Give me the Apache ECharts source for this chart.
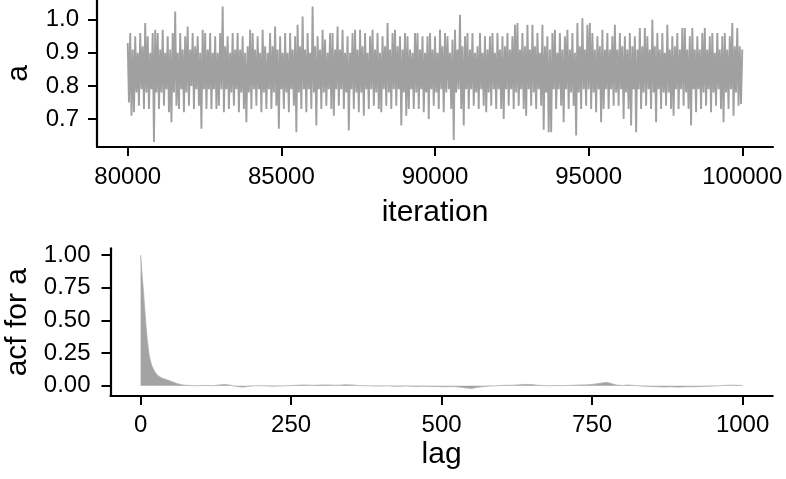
<!DOCTYPE html>
<html>
<head>
<meta charset="utf-8">
<script src="https://cdn.jsdelivr.net/npm/echarts@6/dist/echarts.min.js"></script>
<style>
html,body{margin:0;padding:0;background:#fff;}
#chart{width:786px;height:479px;}
</style>
</head>
<body>
<div id="chart"></div>
<script>
// ---- data ----
var iterStart = 80000;
var iterEnd = 100000;
var traceValues = [
.93,.75,.96,.71,.91,.72,.95,.78,
.90,.74,.96,.79,.92,.73,.99,.78,
.95,.73,.90,.79,.96,.63,.97,.78,
.96,.73,.91,.78,.97,.74,.90,.79,
.95,.72,.91,.69,.96,.78,1.025,.74,
.90,.73,.96,.79,.91,.72,.95,.78,
.98,.74,.91,.80,.96,.73,.92,.79,
.95,.74,.90,.67,.97,.79,.96,.73,
.91,.79,.96,.73,.90,.79,.95,.73,
.90,.74,.96,.79,1.04,.72,.92,.79,
.95,.73,.90,.78,.96,.74,.91,.79,
.96,.72,.91,.78,.95,.73,.90,.69,
.92,.78,.97,.73,.96,.79,.91,.74,
.95,.79,.90,.72,.97,.78,.92,.73,
.90,.79,.96,.73,.92,.78,.98,.74,
.91,.67,.95,.79,.90,.73,.96,.78,
.90,.72,.96,.79,.91,.74,.95,.66,
.985,.78,.92,.73,1.01,.79,.91,.72,
.96,.79,.90,.73,1.04,.78,.92,.68,
.95,.79,.91,.73,.97,.78,.94,.74,
.90,.79,.96,.73,.96,.71,.91,.79,
.98,.74,.91,.79,.97,.73,.90,.78,
.95,.665,.90,.79,.96,.73,.97,.78,
.91,.72,.97,.78,.92,.71,.96,.79,
.90,.73,.95,.79,.97,.74,.91,.78,
.96,.73,.90,.72,.95,.79,.92,.74,
.99,.78,.91,.73,.96,.79,.97,.74,
.92,.79,.95,.68,.91,.78,.96,.71,
.95,.73,.91,.79,.90,.73,.96,.78,
.96,.73,.91,.79,.95,.72,.90,.78,
.95,.70,.96,.79,.91,.74,.95,.78,
.90,.73,.97,.79,.92,.72,.96,.78,
.95,.79,.90,.73,.94,.636,.97,.78,
.91,.79,1.015,.73,.92,.68,.95,.79,
.96,.73,.91,.79,.96,.74,.90,.78,
.92,.73,.96,.79,.90,.74,.95,.72,
.91,.78,.95,.74,.96,.79,.90,.73,
.96,.79,.91,.73,.95,.70,.92,.79,
.96,.74,.91,.79,.95,.73,.985,.78,
.99,.74,.91,.79,.96,.73,.92,.71,
.985,.79,.91,.74,.985,.78,.92,.73,
.96,.79,.90,.74,.985,.667,.92,.78,
.95,.66,.91,.66,.96,.79,.97,.73,
.90,.79,.96,.74,.91,.69,.95,.79,
.97,.73,.91,.78,.96,.74,.90,.65,
.99,.78,.92,.73,1.005,.79,.91,.74,
.985,.79,.99,.73,.96,.78,.91,.72,
.95,.79,.92,.69,.97,.73,.91,.79,
.96,.73,.91,.79,.95,.74,.985,.78,
.91,.74,.96,.79,.92,.70,.95,.78,
.91,.73,.96,.68,.92,.79,.95,.66,
.91,.79,.975,.73,.92,.78,.975,.74,
.95,.79,.91,.73,1.0,.78,.92,.69,
.96,.79,.91,.73,.96,.78,.90,.74,
.985,.78,.91,.73,.95,.71,.92,.79,
.96,.73,.91,.79,.975,.74,.975,.78,
.91,.73,.95,.68,.975,.79,.91,.72,
.95,.79,.91,.73,.96,.78,.975,.74,
.91,.79,.95,.72,.96,.78,.90,.74,
.96,.79,.91,.73,.95,.69,.96,.78,
.91,.73,.95,.79,.99,.71,.92,.78,
.975,.74,.92,.745,.91
];

var acfLags = [0,1,2,3,4,5,6,7,8,9,10,11,12,13,14,15,16,17,18,19,20,22,24,26,28,30,33,36,40,45,50,55,60,65,70,75,
80,90,100,110,120,130,140,150,160,170,180,190,200,210,220,230,240,250,260,270,280,290,300,310,320,330,340,350,
360,370,380,390,400,410,420,430,440,450,460,470,480,490,500,510,520,530,540,550,560,570,580,590,600,610,620,630,
640,650,660,670,680,690,700,710,720,730,740,750,760,770,775,780,790,800,810,820,830,840,850,860,870,880,890,900,
910,920,930,940,950,960,970,980,990,1000];
var acfValues = [1.0,0.95,0.88,0.82,0.765,0.71,0.645,0.58,0.52,0.46,0.41,0.36,0.32,0.28,0.245,0.22,0.2,0.18,0.165,0.15,0.14,0.12,0.105,0.092,0.082,0.073,0.063,0.058,0.052,0.044,0.035,0.027,0.018,0.012,0.007,0.004,
0.003,0.0,0.002,0.003,0.0,0.006,0.01,0.004,-0.006,-0.01,-0.004,0.0,0.001,-0.001,-0.003,-0.002,0.0,0.002,0.004,0.006,0.005,0.004,0.006,0.007,0.004,0.005,0.008,0.007,
0.003,0.001,0.0,-0.002,-0.002,0.0,-0.003,-0.004,-0.001,-0.003,-0.005,-0.003,-0.006,-0.005,-0.007,-0.008,-0.006,-0.01,-0.016,-0.02,-0.012,-0.006,-0.002,0.0,0.003,0.004,0.005,0.008,
0.011,0.009,0.004,0.002,0.0,0.002,0.001,0.003,0.004,0.006,0.007,0.01,0.018,0.024,0.026,0.02,0.006,0.002,0.006,0.003,-0.001,-0.004,-0.006,-0.008,-0.009,-0.008,-0.01,-0.009,
-0.007,-0.008,-0.006,-0.004,-0.002,0.0,0.003,0.005,0.004,0.002];

var traceYTicks = [0.7, 0.8, 0.9, 1.0];
var traceXTicks = [80000, 85000, 90000, 95000, 100000];
var acfYTicks = [0, 0.25, 0.5, 0.75, 1.0];
var acfXTicks = [0, 250, 500, 750, 1000];

// ---- build ----
var n = traceValues.length;
var traceData = traceValues.map(function (v, i) {
  return [iterStart + i * (iterEnd - iterStart) / (n - 1), v];
});
var acfData = acfLags.map(function (l, i) { return [l, acfValues[i]]; });

var FONT = 'Liberation Sans';
var axisLine = { show: true, onZero: false, lineStyle: { color: '#000', width: 2.2 } };
var axisTick = function (vals) {
  return { show: true, length: 9, customValues: vals, lineStyle: { color: '#000', width: 2 } };
};
var axisLabel = function (vals, margin, fmt) {
  return { show: true, customValues: vals, margin: margin, color: '#000', fontSize: 24,
           fontFamily: FONT, formatter: fmt };
};
var nameStyle = { color: '#000', fontSize: 30, fontFamily: FONT };

var chart = echarts.init(document.getElementById('chart'), null, { renderer: 'canvas' });
chart.setOption({
  animation: false,
  backgroundColor: '#fff',
  grid: [
    { left: 97, top: 0, width: 676, height: 147, containLabel: false, outerBoundsMode: 'none' },
    { left: 110.5, top: 248.3, width: 662.2, height: 147.7, containLabel: false, outerBoundsMode: 'none' }
  ],
  xAxis: [
    { gridIndex: 0, type: 'value', min: 79000, max: 101000,
      axisLine: axisLine, axisTick: axisTick(traceXTicks),
      axisLabel: axisLabel(traceXTicks, 18, function (v) { return String(v); }),
      splitLine: { show: false },
      name: 'iteration', nameLocation: 'middle', nameGap: 51, nameTextStyle: nameStyle },
    { gridIndex: 1, type: 'value', min: -50, max: 1050,
      axisLine: axisLine, axisTick: axisTick(acfXTicks),
      axisLabel: axisLabel(acfXTicks, 17, function (v) { return String(v); }),
      splitLine: { show: false },
      name: 'lag', nameLocation: 'middle', nameGap: 44, nameTextStyle: nameStyle }
  ],
  yAxis: [
    { gridIndex: 0, type: 'value', min: 0.615, max: 1.06,
      axisLine: axisLine, axisTick: axisTick(traceYTicks),
      axisLabel: axisLabel(traceYTicks, 18, function (v) { return v.toFixed(1); }),
      splitLine: { show: false },
      name: 'a', nameLocation: 'middle', nameGap: 63, nameTextStyle: nameStyle },
    { gridIndex: 1, type: 'value', min: -0.078, max: 1.051,
      axisLine: axisLine, axisTick: axisTick(acfYTicks),
      axisLabel: axisLabel(acfYTicks, 20, function (v) { return v.toFixed(2); }),
      splitLine: { show: false },
      name: 'acf for a', nameLocation: 'middle', nameGap: 75, nameTextStyle: nameStyle }
  ],
  series: [
    { type: 'line', xAxisIndex: 0, yAxisIndex: 0, data: traceData, showSymbol: false,
      symbol: 'none', sampling: null, lineStyle: { color: '#a0a0a0', width: 1.9 }, silent: true },
    { type: 'line', xAxisIndex: 1, yAxisIndex: 1, data: acfData, showSymbol: false,
      symbol: 'none', lineStyle: { color: '#b0b0b0', width: 0.8 },
      areaStyle: { color: '#a3a3a3', opacity: 1, origin: 0 }, silent: true }
  ]
});
</script>
</body>
</html>
